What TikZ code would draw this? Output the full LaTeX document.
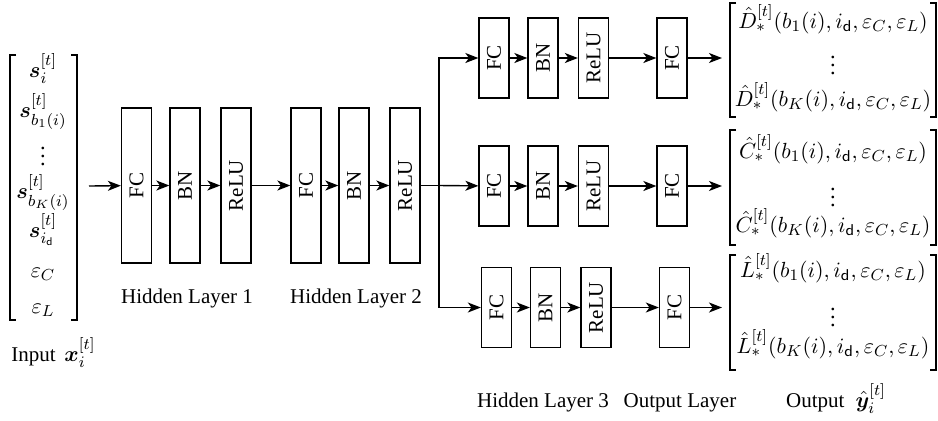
\documentclass[tikz,border=0pt]{standalone}
\usepackage{amsmath,amssymb,bm}
\usepackage{fontspec}
\setmainfont{Liberation Serif}
\usetikzlibrary{arrows.meta}
\newcommand{\rt}[1]{\rotatebox{90}{#1}}
\begin{document}
\begin{tikzpicture}[x=0.5pt,y=-0.5pt, font=\fontsize{10.5}{12}\selectfont,
  blk/.style={draw, line width=0.65pt, inner sep=0pt, minimum width=15pt},
  tall/.style={blk, minimum height=77.5pt},
  short/.style={blk, minimum height=40pt},
  arr/.style={line width=0.7pt, -{Stealth[length=6.5pt,width=5pt,inset=1.8pt]}},
  ln/.style={line width=0.7pt},
  brk/.style={line width=0.75pt},
  lbl/.style={anchor=base},
  mth/.style={anchor=base, font=\fontsize{11.2}{13}\selectfont},
  dts/.style={font=\fontsize{11.2}{13}\selectfont}]
\useasboundingbox (0,0) rectangle (938,420);

% input vector
\draw[brk] (16,55) -- (10,55) -- (10,320) -- (16,320);
\draw[brk] (71,55) -- (77,55) -- (77,320) -- (71,320);
\node[mth] (s1) at (43,77) {$\bm{s}_i^{[t]}$};
\node[mth] (s2) at (43,117) {$\bm{s}_{b_1(i)}^{[t]}$};
\node[dts] (sv) at (43,150) {$\vdots$};
\node[mth] (s3) at (43,198) {$\bm{s}_{b_K(i)}^{[t]}$};
\node[mth] (s4) at (43,237) {$\bm{s}_{i_{\mathsf{d}}}^{[t]}$};
\node[mth] (s5) at (43,277) {$\varepsilon_C$};
\node[mth] (s6) at (43,313) {$\varepsilon_L$};
\node[anchor=base west, inner sep=0pt] (inlab) at (11,361) {Input\, {\fontsize{11.2}{13}\selectfont$\bm{x}_i^{[t]}$}};
\coordinate (inp) at (89,186);

% hidden layer 1 and 2
\node[tall] (fc1) at (136.5,185.5) {\rt{FC}};
\node[tall] (bn1) at (185,185.5) {\rt{BN}};
\node[tall] (re1) at (236,185.5) {\rt{ReLU}};
\node[tall] (fc2) at (306,185.5) {\rt{FC}};
\node[tall] (bn2) at (354,185.5) {\rt{BN}};
\node[tall] (re2) at (405,185.5) {\rt{ReLU}};
\node[lbl] (h1) at (187,303) {Hidden Layer 1};
\node[lbl] (h2) at (356,303) {Hidden Layer 2};

\draw[arr] (inp) -- (fc1);
\draw[arr] (fc1) -- (bn1);
\draw[arr] (bn1) -- (re1);
\draw[arr] (re1) -- (fc2);
\draw[arr] (fc2) -- (bn2);
\draw[arr] (bn2) -- (re2);

% branches
\node[short] (fcA) at (494,58) {\rt{FC}};
\node[short] (bnA) at (543,58) {\rt{BN}};
\node[short] (reA) at (593.5,58) {\rt{ReLU}};
\node[short] (ofA) at (672,58) {\rt{FC}};
\node[short] (fcB) at (494,186) {\rt{FC}};
\node[short] (bnB) at (543,186) {\rt{BN}};
\node[short] (reB) at (593.5,186) {\rt{ReLU}};
\node[short] (ofB) at (672,186) {\rt{FC}};
\node[short] (fcC) at (496.5,307.5) {\rt{FC}};
\node[short] (bnC) at (545.5,307.5) {\rt{BN}};
\node[short] (reC) at (596,307.5) {\rt{ReLU}};
\node[short] (ofC) at (674.5,307.5) {\rt{FC}};

\coordinate (J) at (439,185.5);
\draw[ln] (re2) -- (J);
\draw[arr] (J) |- (fcA);
\draw[arr] (J) -- (fcB);
\draw[arr] (J) |- (fcC);
\foreach \r in {A,B,C}{
  \draw[arr] (fc\r) -- (bn\r);
  \draw[arr] (bn\r) -- (re\r);
  \draw[arr] (re\r) -- (of\r);
}
\coordinate (Din) at (722,58);
\coordinate (Cin) at (722,186);
\coordinate (Lin) at (722,307.5);
\draw[arr] (ofA) -- (Din);
\draw[arr] (ofB) -- (Cin);
\draw[arr] (ofC) -- (Lin);

% output vectors
\draw[brk] (736,3) -- (730,3) -- (730,117) -- (736,117);
\draw[brk] (930,3) -- (936,3) -- (936,117) -- (930,117);
\node[mth] (d1) at (833,28) {$\hat{D}_*^{[t]}(b_1(i), i_{\mathsf{d}}, \varepsilon_C, \varepsilon_L)$};
\node[dts] (dv) at (833,59) {$\vdots$};
\node[mth] (d2) at (833,106) {$\hat{D}_*^{[t]}(b_K(i), i_{\mathsf{d}}, \varepsilon_C, \varepsilon_L)$};

\draw[brk] (736,130) -- (730,130) -- (730,245) -- (736,245);
\draw[brk] (930,130) -- (936,130) -- (936,245) -- (930,245);
\node[mth] (c1) at (833,158) {$\hat{C}_*^{[t]}(b_1(i), i_{\mathsf{d}}, \varepsilon_C, \varepsilon_L)$};
\node[dts] (cv) at (833,191) {$\vdots$};
\node[mth] (c2) at (833,232) {$\hat{C}_*^{[t]}(b_K(i), i_{\mathsf{d}}, \varepsilon_C, \varepsilon_L)$};

\draw[brk] (736,255) -- (730,255) -- (730,370) -- (736,370);
\draw[brk] (930,255) -- (936,255) -- (936,370) -- (930,370);
\node[mth] (l1) at (833,277) {$\hat{L}_*^{[t]}(b_1(i), i_{\mathsf{d}}, \varepsilon_C, \varepsilon_L)$};
\node[dts] (lv) at (833,311) {$\vdots$};
\node[mth] (l2) at (833,353) {$\hat{L}_*^{[t]}(b_K(i), i_{\mathsf{d}}, \varepsilon_C, \varepsilon_L)$};

\node[lbl] (h3) at (543,407) {Hidden Layer 3};
\node[lbl] (ol) at (680,407) {Output Layer};
\node[lbl] (oy) at (836,407) {Output\; {\fontsize{11.2}{13}\selectfont$\hat{\bm{y}}_i^{[t]}$}};
\end{tikzpicture}
\end{document}
